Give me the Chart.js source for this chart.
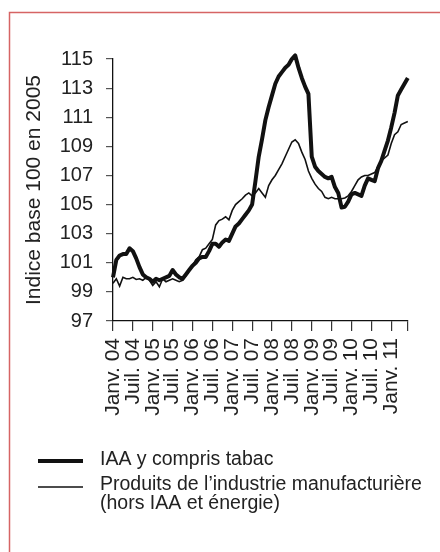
<!DOCTYPE html>
<html>
<head>
<meta charset="utf-8">
<script src="https://cdn.jsdelivr.net/npm/chart.js@4"></script>
<style>
  html, body { margin: 0; padding: 0; background: #fff; }
  #wrap { position: relative; width: 440px; height: 552px; }
</style>
</head>
<body>
<div id="wrap"><canvas id="c" width="440" height="552"></canvas></div>
<script>
// ---- Data (monthly, Jan 2004 – Jun 2011) ----
const years = ['04','05','06','07','08','09','10','11'];
const monthNames = ['Janv.','Févr.','Mars','Avr.','Mai','Juin','Juil.','Août','Sept.','Oct.','Nov.','Déc.'];
const categories = [];
years.forEach(y => monthNames.forEach(m => { if (categories.length < 90) categories.push(m + ' ' + y); }));

const tickLabels = ['Janv. 04','Juil. 04','Janv. 05','Juil. 05','Janv. 06','Juil. 06','Janv. 07',
  'Juil. 07','Janv. 08','Juil. 08','Janv. 09','Juil. 09','Janv. 10','Juil. 10','Janv. 11'];

const iaa = [
  100.0, 101.2, 101.5, 101.6, 101.6, 102.0, 101.8, 101.3, 100.7, 100.2, 100.0, 99.9,
  99.7, 99.9, 99.8, 99.9, 100.0, 100.1, 100.5, 100.2, 100.0, 99.9, 100.2, 100.5,
  100.8, 101.0, 101.3, 101.4, 101.4, 101.8, 102.3, 102.3, 102.1, 102.4, 102.6, 102.5,
  103.0, 103.5, 103.7, 104.0, 104.3, 104.6, 105.0, 106.6, 108.3, 109.5, 110.8, 111.7,
  112.5, 113.3, 113.8, 114.1, 114.4, 114.6, 115.0, 115.25, 114.4, 113.7, 113.1, 112.6,
  108.3, 107.6, 107.3, 107.1, 106.9, 106.8, 106.9, 106.2, 105.8, 104.8, 104.85, 105.2,
  105.7, 105.8, 105.7, 105.6, 106.3, 106.8, 106.7, 106.6, 107.5, 108.0, 108.7, 109.4,
  110.3, 111.3, 112.5, 112.9, 113.3, 113.7
];

const manuf = [
  99.6, 99.9, 99.4, 100.0, 99.9, 99.9, 100.0, 99.85, 99.9, 99.8, 100.0, 99.8,
  99.45, 99.7, 99.35, 99.9, 99.7, 99.8, 99.9, 99.8, 99.7, 99.8, 100.1, 100.5,
  100.8, 101.2, 101.4, 101.9, 102.0, 102.3, 102.6, 103.6, 103.9, 104.0, 104.16, 103.95,
  104.6, 105.0, 105.2, 105.4, 105.65, 105.8, 105.6, 105.8, 106.1, 105.8, 105.5, 106.3,
  106.7, 107.0, 107.4, 107.8, 108.3, 108.8, 109.3, 109.45, 109.2, 108.6, 108.1, 107.3,
  106.8, 106.4, 106.1, 105.9, 105.5, 105.4, 105.5, 105.4, 105.4, 105.4, 105.45, 105.6,
  105.9, 106.3, 106.7, 106.9, 107.0, 107.0, 107.1, 107.2, 107.6, 108.0, 108.2, 108.4,
  109.2, 109.8, 110.0, 110.5, 110.6, 110.7
];

const seriesNames = ['IAA y compris tabac', 'Produits de l\u2019industrie manufacturière', '(hors IAA et énergie)'];
const yTitle = 'Indice base 100 en 2005';

const FONT = "'Liberation Sans', Arial, Helvetica, sans-serif";

const framePlugin = {
  id: 'frame',
  beforeDraw(chart) {
    const ctx = chart.ctx;
    ctx.save();
    ctx.strokeStyle = 'rgb(214,100,100)';
    ctx.lineWidth = 1.5;
    ctx.strokeRect(9.5, 12.5, 470, 580);
    ctx.restore();
  }
};

const legendPlugin = {
  id: 'customLegend',
  afterDraw(chart) {
    const ctx = chart.ctx;
    ctx.save();
    ctx.strokeStyle = '#111';
    ctx.lineCap = 'butt';
    ctx.lineWidth = 4;
    ctx.beginPath(); ctx.moveTo(38, 461); ctx.lineTo(83, 461); ctx.stroke();
    ctx.lineWidth = 1.6;
    ctx.beginPath(); ctx.moveTo(38, 487); ctx.lineTo(83, 487); ctx.stroke();
    ctx.fillStyle = '#222';
    ctx.font = '19.5px ' + FONT;
    ctx.textBaseline = 'middle';
    ctx.textAlign = 'left';
    ctx.fillText(seriesNames[0], 100, 460);
    ctx.fillText(seriesNames[1], 100, 485);
    ctx.fillText(seriesNames[2], 100, 504);
    ctx.restore();
  }
};

new Chart(document.getElementById('c'), {
  type: 'line',
  data: {
    labels: categories,
    datasets: [
      { label: seriesNames[0], data: iaa, borderColor: '#111', borderWidth: 4, pointRadius: 0, tension: 0, clip: false, borderJoinStyle: 'round' },
      { label: seriesNames[1] + ' ' + seriesNames[2], data: manuf, borderColor: '#111', borderWidth: 1.6, pointRadius: 0, tension: 0, clip: false }
    ]
  },
  options: {
    responsive: false,
    animation: false,
    devicePixelRatio: 1,
    layout: { padding: { top: 59, right: 13, left: 0, bottom: 0 } },
    plugins: { legend: { display: false }, tooltip: { enabled: false } },
    scales: {
      x: {
        type: 'category',
        afterFit(scale) { scale.height = 552 - 321; },
        border: { display: true, color: '#111', width: 1.3 },
        grid: { display: true, drawOnChartArea: false, drawTicks: true, tickLength: 10, color: '#333', lineWidth: 1.2 },
        ticks: {
          autoSkip: false, maxRotation: 90, minRotation: 90, padding: 7,
          color: '#222', font: { family: FONT, size: 21 },
          callback(value, index) {
            if (index % 6 === 0) return tickLabels[index / 6];
            if (index === categories.length - 1) return '';
            return null;
          }
        }
      },
      y: {
        min: 97, max: 115,
        afterFit(scale) { scale.width = 113; },
        border: { display: true, color: '#111', width: 1.3 },
        grid: { display: true, drawOnChartArea: false, drawTicks: true, tickLength: 7, color: '#555', lineWidth: 1.2 },
        ticks: { stepSize: 2, padding: 13, color: '#222', font: { family: FONT, size: 20 } },
        title: { display: true, text: yTitle, color: '#222', font: { family: FONT, size: 21 }, padding: { top: 22, bottom: 0 } }
      }
    }
  },
  plugins: [framePlugin, legendPlugin]
});
</script>
</body>
</html>
